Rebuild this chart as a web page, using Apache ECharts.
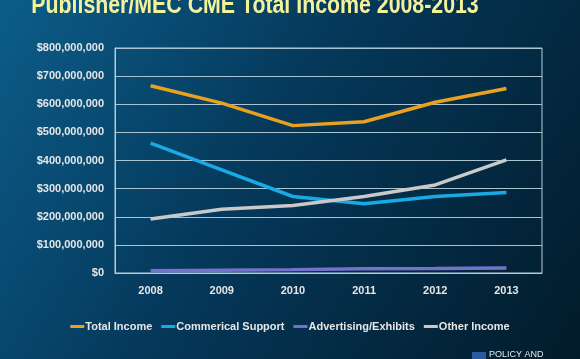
<!DOCTYPE html>
<html>
<head>
<meta charset="utf-8">
<script src="https://cdn.jsdelivr.net/npm/echarts@6/dist/echarts.min.js"></script>
<style>
html,body{margin:0;padding:0;width:580px;height:359px;overflow:hidden;background:#03283f;}
#chart{width:580px;height:359px;}
</style>
</head>
<body>
<div id="chart"></div>
<script>
const titleText = 'Publisher/MEC CME Total Income 2008-2013';
const categories = ['2008', '2009', '2010', '2011', '2012', '2013'];
const seriesNames = ['Total Income', 'Commerical Support', 'Advertising/Exhibits', 'Other Income'];
const totalIncome = [666e6, 604e6, 524e6, 538e6, 607e6, 656e6];
const commercialSupport = [462e6, 367e6, 272e6, 246e6, 272e6, 286e6];
const advertisingExhibits = [8e6, 10e6, 12e6, 15e6, 16e6, 18e6];
const otherIncome = [192e6, 227e6, 240e6, 272e6, 313e6, 402e6];
const colors = ['#E9A11E', '#19A9E3', '#7473CC', '#C9C9C9'];

const chart = echarts.init(document.getElementById('chart'), null, {renderer: 'canvas'});
const dataArr = [totalIncome, commercialSupport, advertisingExhibits, otherIncome];
function fmt(v){ return '$' + v.toLocaleString('en-US'); }
chart.setOption({
  backgroundColor: {
    type: 'linear', x: 0, y: 0, x2: 1, y2: 1,
    colorStops: [
      {offset: 0, color: '#0c5d8a'},
      {offset: 0.45, color: '#05385a'},
      {offset: 1, color: '#021b2a'}
    ]
  },
  animation: false,
  legend: {
    data: seriesNames,
    top: 316, left: 'center',
    itemWidth: 14, itemHeight: 3, itemGap: 9,
    icon: 'rect',
    textStyle: {color: '#E6E6E6', fontFamily: 'Liberation Sans, Arial', fontWeight: 'bold', fontSize: 11, padding: [0,0,0,-4]}
  },
  grid: {
    left: 115, right: 38, top: 48, bottom: 86,
    show: true, borderColor: '#B5CCD8', borderWidth: 1, backgroundColor: 'transparent'
  },
  xAxis: {
    type: 'category', data: categories, boundaryGap: true,
    axisLine: {show: true, lineStyle: {color: '#B5CCD8'}},
    axisTick: {show: false},
    axisLabel: {color: '#E6E6E6', fontFamily: 'Liberation Sans, Arial', fontWeight: 'bold', fontSize: 11, margin: 12}
  },
  yAxis: {
    type: 'value', min: 0, max: 800000000, interval: 100000000,
    axisLine: {show: true, lineStyle: {color: '#B5CCD8'}},
    axisTick: {show: false},
    splitLine: {lineStyle: {color: '#A9C3D0', width: 1}},
    axisLabel: {color: '#E6E6E6', fontFamily: 'Liberation Sans, Arial', fontWeight: 'bold', fontSize: 11, margin: 11, formatter: fmt}
  },
  series: seriesNames.map((n, i) => ({
    name: n, type: 'line', data: dataArr[i],
    symbol: 'none', lineStyle: {color: colors[i], width: 3.5},
    itemStyle: {color: colors[i]}
  })),
  graphic: [
    {type: 'text', x: 255, y: -7, scaleX: 0.82, style: {
      text: titleText, x: 0, y: 0, textAlign: 'center', textVerticalAlign: 'top',
      fill: '#F4F19B', font: 'bold 26px Liberation Sans, Arial',
      shadowColor: 'rgba(0,0,0,0.6)', shadowBlur: 3, shadowOffsetX: 1, shadowOffsetY: 1
    }},
    {type: 'rect', left: 472, top: 352, shape: {width: 14, height: 10}, style: {fill: '#2a5aa0'}},
    {type: 'text', left: 489, top: 350, style: {text: 'POLICY AND', fill: '#dfe8f0', font: '9px Liberation Sans'}}
  ]
});
</script>
</body>
</html>
